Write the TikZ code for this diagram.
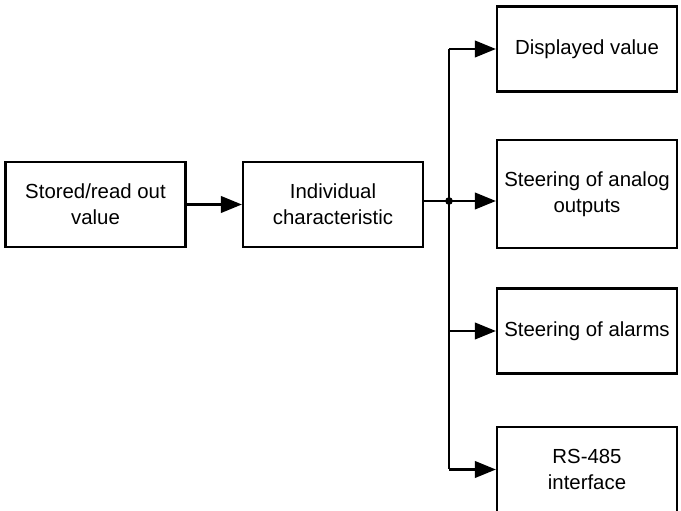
\documentclass[tikz,border=0pt]{standalone}
\usepackage{fontspec}
\setmainfont{Liberation Sans}
\usepackage{tikz}
\usetikzlibrary{arrows.meta}

\tikzset{
 blk/.style={draw, line width=1.3pt, minimum width=3.6cm, minimum height=1.7cm,
  align=center, inner sep=0pt, font=\fontsize{11.6}{15}\selectfont},
 arr/.style={line width=1.2pt, -{Triangle[length=12pt,width=9.5pt]}}
}

\begin{document}
\begin{tikzpicture}
 \useasboundingbox (0,0) rectangle (13.62,10.22);
 \node[blk] at (1.91,6.13)(stored){Stored/read out\\value};
 \node[blk] at (6.66,6.13)(indiv){Individual\\characteristic};
 \node[blk] at (11.74,9.24)(disp){Displayed value};
 \node[blk, minimum height=2.16cm] at (11.74,6.34)(analog){Steering of analog\\outputs};
 \node[blk] at (11.74,3.60)(alarm){Steering of alarms};
 \node[blk] at (11.74,0.83)(rs){RS-485\\interface};
 \coordinate (jn) at (8.98,6.2);
 \draw[arr] (stored.east) -- (indiv.west);
 \draw[line width=1.2pt] (indiv.east |- jn) -- (jn);
 \draw[line width=1.2pt] (jn |- disp.west) -- (jn |- rs.west);
 \fill (jn) circle (2.2pt);
 \draw[arr] (jn |- disp.west) -- (disp.west);
 \draw[arr] (jn) -- (jn -| analog.west);
 \draw[arr] (jn |- alarm.west) -- (alarm.west);
 \draw[arr] (jn |- rs.west) -- (rs.west);
\end{tikzpicture}
\end{document}
